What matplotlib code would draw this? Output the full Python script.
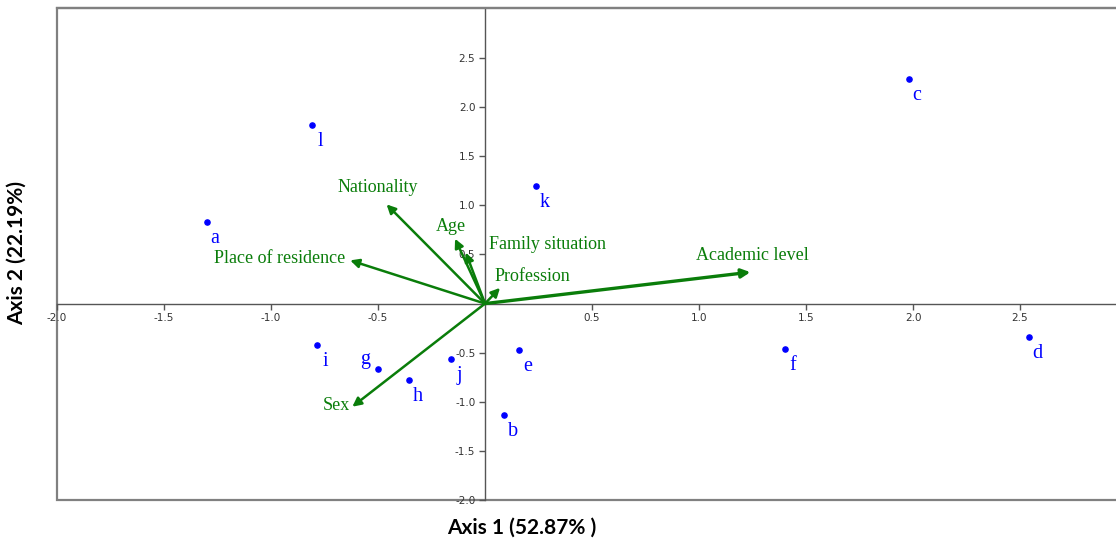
import numpy as np
import matplotlib
matplotlib.use("Agg")
import matplotlib.pyplot as plt

# individuals (points)
ind_names = ['a', 'b', 'c', 'd', 'e', 'f', 'g', 'h', 'i', 'j', 'k', 'l']
ind_x = [-1.30, 0.09, 1.98, 2.54, 0.16, 1.40, -0.50, -0.355, -0.785, -0.16, 0.24, -0.81]
ind_y = [0.83, -1.13, 2.29, -0.34, -0.47, -0.46, -0.67, -0.78, -0.42, -0.56, 1.20, 1.82]

# variables (arrows)
var_names = ['Nationality', 'Age', 'Family situation', 'Profession',
             'Academic level', 'Place of residence', 'Sex']
var_x = [-0.46, -0.14, -0.09, 0.07, 1.24, -0.63, -0.62]
var_y = [1.01, 0.66, 0.52, 0.16, 0.32, 0.44, -1.05]

ticks = [-2.0, -1.5, -1.0, -0.5, 0.5, 1.0, 1.5, 2.0, 2.5]

# label placement (data coords, alignment)
var_lab = {'Nationality': (-0.50, 1.18, 'center'),
           'Age': (-0.16, 0.79, 'center'),
           'Family situation': (0.02, 0.605, 'left'),
           'Profession': (0.045, 0.28, 'left'),
           'Academic level': (1.25, 0.49, 'center'),
           'Place of residence': (-0.655, 0.46, 'right'),
           'Sex': (-0.63, -1.04, 'right')}

green = '#0a7d0a'
blue = '#0000ff'

fig = plt.figure(figsize=(11.16, 5.43), dpi=100)
ax = fig.add_axes([57/1116, 43/543, 1063/1116, 492/543])
ax.set_xlim(-2.0, 2.967)
ax.set_ylim(-2.0, 3.01)

# outer frame
for s in ['top', 'right']:
    ax.spines[s].set_color('#808080')
    ax.spines[s].set_linewidth(1.6)
ax.patch.set_edgecolor('#808080')
ax.patch.set_linewidth(1.6)
# axes through origin
for s in ['left', 'bottom']:
    ax.spines[s].set_position(('data', 0))
    ax.spines[s].set_color('#555555')
    ax.spines[s].set_linewidth(1.0)

ax.set_xticks(ticks)
ax.set_yticks(ticks)
ax.set_xticklabels([f'{t:.1f}' for t in ticks])
ax.set_yticklabels([f'{t:.1f}' for t in ticks])
ax.tick_params(direction='out', length=4, width=1, color='#555555',
               labelsize=7.5, labelcolor='#333333', pad=3)

# arrows
for name, x, y in zip(var_names, var_x, var_y):
    lw = 2.4 if name == 'Academic level' else 1.8
    ax.annotate('', xy=(x, y), xytext=(0, 0),
                arrowprops=dict(arrowstyle='-|>', color=green, lw=lw,
                                mutation_scale=13, shrinkA=0, shrinkB=0))
    lx, ly, ha = var_lab[name]
    ax.text(lx, ly, name, color=green, fontsize=13, ha=ha, va='center',
            family='Liberation Serif')

# points
ax.scatter(ind_x, ind_y, s=14, color=blue, zorder=5)
for name, x, y in zip(ind_names, ind_x, ind_y):
    off = (-9, 7) if name == 'g' else (6, -12)
    ax.annotate(name, (x, y), xytext=off, textcoords='offset points',
                color=blue, fontsize=14.5, ha='center', va='center',
                family='Liberation Serif')

fig.text(522/1116, 1 - 528/543, 'Axis 1 (52.87% )', ha='center', va='center',
         fontsize=15, fontweight='bold', family='Lato')
fig.text(17/1116, 1 - 253/543, 'Axis 2 (22.19%)', ha='center', va='center',
         rotation=90, fontsize=15, fontweight='bold', family='Lato')

fig.savefig('out.png', dpi=100)
